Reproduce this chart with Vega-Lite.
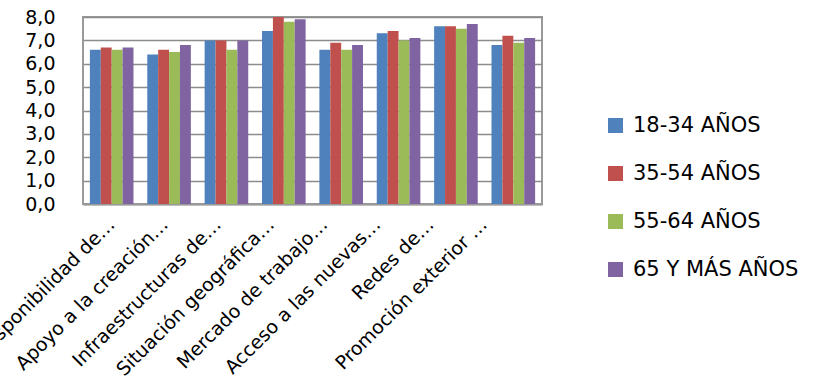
{
  "$schema": "https://vega.github.io/schema/vega-lite/v6.json",
  "autosize": {"type": "none"},
  "padding": {"left": 83, "top": 17, "right": 272, "bottom": 186},
  "width": 459,
  "height": 187,
  "background": "white",
  "config": {
    "font": "DejaVu Sans",
    "view": {"stroke": "#9a9a9a", "strokeWidth": 2}
  },
  "data": {
    "values": [
      {"cat": "Disponibilidad de…", "grupo": "18-34 AÑOS", "v": 6.6},
      {"cat": "Disponibilidad de…", "grupo": "35-54 AÑOS", "v": 6.7},
      {"cat": "Disponibilidad de…", "grupo": "55-64 AÑOS", "v": 6.6},
      {"cat": "Disponibilidad de…", "grupo": "65 Y MÁS AÑOS", "v": 6.7},
      {"cat": "Apoyo a la creación…", "grupo": "18-34 AÑOS", "v": 6.4},
      {"cat": "Apoyo a la creación…", "grupo": "35-54 AÑOS", "v": 6.6},
      {"cat": "Apoyo a la creación…", "grupo": "55-64 AÑOS", "v": 6.5},
      {"cat": "Apoyo a la creación…", "grupo": "65 Y MÁS AÑOS", "v": 6.8},
      {"cat": "Infraestructuras de…", "grupo": "18-34 AÑOS", "v": 7.0},
      {"cat": "Infraestructuras de…", "grupo": "35-54 AÑOS", "v": 7.0},
      {"cat": "Infraestructuras de…", "grupo": "55-64 AÑOS", "v": 6.6},
      {"cat": "Infraestructuras de…", "grupo": "65 Y MÁS AÑOS", "v": 7.0},
      {"cat": "Situación geográfica…", "grupo": "18-34 AÑOS", "v": 7.4},
      {"cat": "Situación geográfica…", "grupo": "35-54 AÑOS", "v": 8.0},
      {"cat": "Situación geográfica…", "grupo": "55-64 AÑOS", "v": 7.8},
      {"cat": "Situación geográfica…", "grupo": "65 Y MÁS AÑOS", "v": 7.9},
      {"cat": "Mercado de trabajo…", "grupo": "18-34 AÑOS", "v": 6.6},
      {"cat": "Mercado de trabajo…", "grupo": "35-54 AÑOS", "v": 6.9},
      {"cat": "Mercado de trabajo…", "grupo": "55-64 AÑOS", "v": 6.6},
      {"cat": "Mercado de trabajo…", "grupo": "65 Y MÁS AÑOS", "v": 6.8},
      {"cat": "Acceso a las nuevas…", "grupo": "18-34 AÑOS", "v": 7.3},
      {"cat": "Acceso a las nuevas…", "grupo": "35-54 AÑOS", "v": 7.4},
      {"cat": "Acceso a las nuevas…", "grupo": "55-64 AÑOS", "v": 7.0},
      {"cat": "Acceso a las nuevas…", "grupo": "65 Y MÁS AÑOS", "v": 7.1},
      {"cat": "Redes de…", "grupo": "18-34 AÑOS", "v": 7.6},
      {"cat": "Redes de…", "grupo": "35-54 AÑOS", "v": 7.6},
      {"cat": "Redes de…", "grupo": "55-64 AÑOS", "v": 7.5},
      {"cat": "Redes de…", "grupo": "65 Y MÁS AÑOS", "v": 7.7},
      {"cat": "Promoción exterior …", "grupo": "18-34 AÑOS", "v": 6.8},
      {"cat": "Promoción exterior …", "grupo": "35-54 AÑOS", "v": 7.2},
      {"cat": "Promoción exterior …", "grupo": "55-64 AÑOS", "v": 6.9},
      {"cat": "Promoción exterior …", "grupo": "65 Y MÁS AÑOS", "v": 7.1}
    ]
  },
  "mark": {"type": "bar", "stroke": null},
  "encoding": {
    "x": {
      "field": "cat",
      "type": "nominal",
      "sort": null,
      "scale": {"paddingInner": 0.24, "paddingOuter": 0.12},
      "axis": {
        "title": null,
        "labelAngle": -45,
        "labelAlign": "right",
        "labelBaseline": "middle",
        "labelFontSize": 19,
        "labelColor": "#000000",
        "labelLimit": 400,
        "labelPadding": 17,
        "labelOffset": {"expr": "-4.2 * indexof(domain('x'), datum.value)"},
        "ticks": false,
        "domainColor": "#9a9a9a",
        "domainWidth": 2
      }
    },
    "xOffset": {"field": "grupo", "type": "nominal", "sort": null, "scale": {"paddingInner": 0}},
    "y": {
      "field": "v",
      "type": "quantitative",
      "scale": {"domain": [0, 8]},
      "axis": {
        "title": null,
        "values": [0, 1, 2, 3, 4, 5, 6, 7, 8],
        "format": ".1f",
        "labelExpr": "replace(datum.label, '.', ',')",
        "labelFontSize": 19,
        "labelColor": "#000000",
        "labelPadding": 28,
        "ticks": false,
        "domain": false,
        "gridColor": "#8c8c8c",
        "gridWidth": 1.5
      }
    },
    "color": {
      "field": "grupo",
      "type": "nominal",
      "sort": null,
      "scale": {
        "domain": ["18-34 AÑOS", "35-54 AÑOS", "55-64 AÑOS", "65 Y MÁS AÑOS"],
        "range": ["#4F81BD", "#C0504D", "#9BBB59", "#8064A2"]
      },
      "legend": {
        "title": null,
        "orient": "none",
        "legendX": 522,
        "legendY": 98,
        "symbolType": "square",
        "symbolSize": 225,
        "symbolStrokeWidth": 0,
        "symbolOpacity": 1,
        "labelFontSize": 21,
        "labelColor": "#000000",
        "labelOffset": 7,
        "rowPadding": 26,
        "labelLimit": 300
      }
    }
  }
}
